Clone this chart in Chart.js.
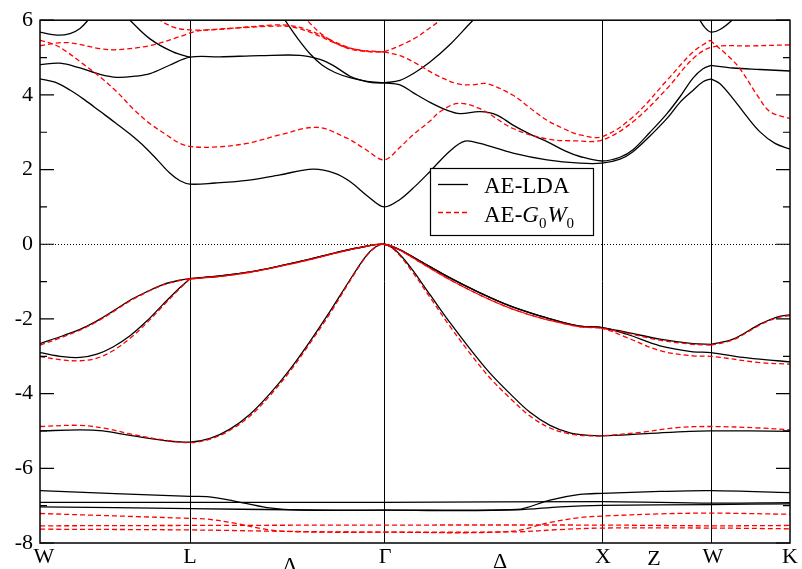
<!DOCTYPE html>
<html>
<head>
<meta charset="utf-8">
<script src="https://cdn.jsdelivr.net/npm/chart.js@4/dist/chart.umd.min.js"></script>
<style>
  body { margin: 0; background: #fff; }
  #wrap { width: 802px; height: 569px; }
</style>
</head>
<body>
<div id="wrap"><canvas id="bands" width="802" height="569"></canvas></div>
<script>
// k-path: high symmetry points (path length units) and axis labels
const kPoints = [0, 150, 344, 562, 671, 750];
const kLabels = ['W', 'L', 'Λ', 'Γ', 'Δ', 'X', 'Z', 'W', 'K'];
const kLabelPos = [4, 150, 250, 345, 460, 563, 614, 673, 750];
const energyTicks = [-8, -6, -4, -2, 0, 2, 4, 6];

// a repeated k value means a kink in the band (line restarts there)

// ---- AE-LDA bands ----
const ldaV1 = [[0,-2.66],[23,-2.45],[40,-2.28],[57,-2.05],[73,-1.79],[90,-1.5],[107,-1.27],[123,-1.08],[140,-0.96],[150,-0.92],
  [180,-0.85],[210,-0.74],[240,-0.58],[270,-0.4],[300,-0.2],[325,-0.06],[344,0],
  [360,-0.15],[380,-0.45],[410,-0.9],[440,-1.3],[470,-1.65],[500,-1.92],[520,-2.07],[540,-2.19],[562,-2.23],
  [587,-2.36],[620,-2.54],[653,-2.66],[671,-2.68],[671,-2.68],[693,-2.54],[720,-2.14],[737,-1.95],[750,-1.89]];
const ldaV2 = [[0,-2.9],[23,-3.01],[40,-3.03],[57,-2.94],[73,-2.75],[90,-2.45],[107,-2.05],[123,-1.61],[140,-1.16],[150,-0.92],
  [150,-0.92],[180,-0.85],[210,-0.74],[240,-0.58],[270,-0.4],[300,-0.2],[325,-0.06],[344,0],
  [360,-0.15],[380,-0.45],[410,-0.9],[440,-1.3],[470,-1.65],[500,-1.92],[520,-2.07],[540,-2.19],[562,-2.23],
  [587,-2.41],[620,-2.72],[653,-2.88],[671,-2.9],[703,-3.03],[737,-3.12],[750,-3.15]];
const ldaV3 = [[0,-5.0],[40,-4.97],[63,-5.0],[90,-5.12],[123,-5.25],[150,-5.3],
  [170,-5.2],[190,-4.95],[210,-4.55],[230,-4.0],[250,-3.35],[270,-2.6],[290,-1.8],[310,-0.95],[325,-0.35],[335,-0.08],[344,0],
  [355,-0.15],[370,-0.6],[390,-1.35],[410,-2.1],[430,-2.8],[450,-3.45],[470,-4.0],[490,-4.5],[510,-4.85],[530,-5.05],[550,-5.12],[562,-5.13],
  [590,-5.1],[620,-5.05],[650,-5.01],[671,-5.0],[710,-5.0],[750,-5.01]];
const ldaD1 = [[0,-6.6],[150,-6.75],[167,-6.76],[193,-6.87],[227,-7.05],[260,-7.12],[344,-7.12],[477,-7.1],[510,-6.85],[540,-6.7],[562,-6.67],[620,-6.62],[671,-6.6],[750,-6.65]];
const ldaD2 = [[0,-6.91],[344,-6.91],[562,-6.89],[671,-6.93],[750,-6.92]];
const ldaD3 = [[0,-7.03],[150,-7.08],[250,-7.11],[344,-7.12],[477,-7.11],[520,-7.03],[562,-6.99],[671,-6.97],[750,-6.95]];
const ldaC1 = [[0,4.43],[15,4.34],[30,4.13],[45,3.86],[60,3.56],[75,3.26],[90,2.95],[105,2.6],[118,2.24],[130,1.9],[140,1.7],[150,1.61],
  [175,1.64],[207,1.71],[240,1.86],[273,2.01],[295,1.9],[310,1.68],[328,1.28],[344,1.0],
  [360,1.2],[375,1.55],[390,1.95],[410,2.5],[425,2.76],[440,2.7],[473,2.44],[507,2.26],[540,2.17],[562,2.17],
  [580,2.28],[593,2.48],[610,2.9],[627,3.37],[640,3.8],[653,4.12],[663,4.35],[671,4.43],[671,4.43],
  [680,4.3],[693,3.9],[706,3.45],[720,3.01],[735,2.7],[750,2.55]];
const ldaC2 = [[344,4.32],[360,4.27],[373,4.06],[390,3.8],[407,3.59],[420,3.5],[440,3.55],[457,3.46],[473,3.19],[490,2.95],[507,2.75],[525,2.5],[540,2.35],[562,2.23],
  [580,2.33],[593,2.53],[610,3.0],[627,3.5],[640,3.95],[653,4.45],[663,4.7],[671,4.79],[671,4.79],[693,4.72],[720,4.68],[750,4.64]];
const ldaC3 = [[0,4.81],[20,4.85],[40,4.72],[60,4.55],[77,4.47],[95,4.5],[110,4.57],[130,4.8],[150,5.01],
  [180,5.02],[220,5.05],[260,5.06],[280,4.95],[293,4.79],[310,4.5],[320,4.4],[332,4.33],[344,4.32]];
const ldaC4 = [[80,6.3],[90,6.0],[110,5.5],[133,5.15],[150,5.01]];
const ldaC5 = [[235,6.4],[245,6.0],[258,5.5],[270,5.1],[282,4.8],[295,4.6],[310,4.46],[327,4.36],[344,4.32]];
const ldaC6 = [[344,4.32],[360,4.39],[375,4.6],[390,4.88],[410,5.35],[433,6.0],[445,6.3]];
const ldaC7 = [[0,5.68],[17,5.6],[30,5.64],[40,5.78],[48,6.0],[55,6.25]];
const ldaC8 = [[655,6.25],[660,6.0],[665,5.8],[671,5.68],[680,5.75],[692,6.0],[700,6.25]];

// ---- AE-G0W0 bands ----
const gwV1 = [[0,-2.7],[23,-2.48],[40,-2.3],[57,-2.07],[73,-1.81],[90,-1.52],[107,-1.28],[123,-1.09],[140,-0.97],[150,-0.93],
  [180,-0.86],[210,-0.75],[240,-0.59],[270,-0.41],[300,-0.21],[325,-0.06],[344,0],
  [360,-0.16],[380,-0.48],[410,-0.95],[440,-1.36],[470,-1.71],[500,-1.97],[520,-2.1],[540,-2.21],[562,-2.25],
  [587,-2.38],[620,-2.57],[653,-2.68],[671,-2.7],[671,-2.7],[693,-2.56],[720,-2.16],[737,-1.97],[750,-1.91]];
const gwV2 = [[0,-3.01],[23,-3.1],[40,-3.12],[57,-3.05],[73,-2.85],[90,-2.52],[107,-2.1],[123,-1.65],[140,-1.18],[150,-0.93],
  [150,-0.93],[180,-0.86],[210,-0.75],[240,-0.59],[270,-0.41],[300,-0.21],[325,-0.06],[344,0],
  [360,-0.16],[380,-0.48],[410,-0.95],[440,-1.36],[470,-1.71],[500,-1.97],[520,-2.1],[540,-2.21],[562,-2.25],
  [587,-2.5],[620,-2.85],[653,-2.99],[671,-3.0],[720,-3.17],[750,-3.21]];
const gwV3 = [[0,-4.88],[40,-4.85],[67,-4.94],[90,-5.08],[123,-5.24],[150,-5.31],
  [170,-5.22],[190,-4.98],[210,-4.6],[230,-4.05],[250,-3.4],[270,-2.65],[290,-1.85],[310,-0.98],[325,-0.37],[335,-0.09],[344,0],
  [355,-0.17],[370,-0.65],[390,-1.42],[410,-2.2],[430,-2.92],[450,-3.58],[470,-4.12],[490,-4.6],[510,-4.92],[530,-5.08],[550,-5.13],[562,-5.13],
  [603,-5.03],[637,-4.91],[671,-4.88],[720,-4.92],[750,-4.97]];
const gwD1 = [[0,-7.21],[150,-7.34],[167,-7.36],[193,-7.46],[227,-7.64],[260,-7.7],[344,-7.71],[470,-7.69],[510,-7.45],[540,-7.32],[562,-7.28],[620,-7.22],[671,-7.2],[750,-7.23]];
const gwD2 = [[0,-7.54],[150,-7.53],[344,-7.52],[562,-7.52],[671,-7.54],[750,-7.53]];
const gwD3 = [[0,-7.63],[150,-7.65],[250,-7.69],[344,-7.71],[477,-7.7],[520,-7.64],[562,-7.6],[671,-7.6],[750,-7.62]];
const gwC1 = [[0,5.46],[15,5.34],[27,5.15],[43,4.83],[60,4.48],[77,4.08],[93,3.63],[110,3.23],[127,2.92],[140,2.7],[150,2.62],
  [173,2.6],[207,2.7],[240,2.93],[277,3.13],[307,2.84],[325,2.55],[344,2.26],
  [360,2.6],[373,2.93],[390,3.3],[400,3.55],[418,3.77],[440,3.63],[473,3.1],[507,2.82],[535,2.77],[562,2.79],
  [593,3.28],[627,4.17],[653,4.97],[672,5.28],[710,5.31],[750,5.34]];
const gwC2 = [[344,5.15],[360,5.05],[377,4.83],[395,4.55],[417,4.3],[432,4.27],[447,4.3],[473,3.99],[490,3.65],[507,3.32],[525,3.08],[540,2.93],[562,2.88],
  [593,3.41],[627,4.39],[653,5.15],[670,5.46],[670,5.46],[687,5.07],[700,4.7],[717,4.0],[730,3.55],[750,3.37]];
const gwC3 = [[0,5.32],[27,5.4],[60,5.24],[77,5.21],[110,5.32],[143,5.59],[150,5.66],[160,5.72],
  [190,5.78],[233,5.84],[250,5.83],[270,5.68],[293,5.41],[310,5.23],[327,5.16],[344,5.15]];
const gwC4 = [[112,6.2],[120,6.0],[135,5.8],[150,5.74],[170,5.74],[200,5.8],[233,5.87],[250,5.86],[270,5.72],[293,5.44],[310,5.26],[327,5.17],[344,5.15]];
const gwC5 = [[258,6.3],[267,6.0],[283,5.6],[300,5.33],[320,5.2],[344,5.15]];
const gwC6 = [[344,5.15],[360,5.32],[377,5.55],[390,5.8],[400,6.0],[410,6.3]];

const ldaBands = [ldaV1, ldaV2, ldaV3, ldaD1, ldaD2, ldaD3, ldaC1, ldaC2, ldaC3, ldaC4, ldaC5, ldaC6, ldaC7, ldaC8];
const gwBands = [gwV1, gwV2, gwV3, gwD1, gwD2, gwD3, gwC1, gwC2, gwC3, gwC4, gwC5, gwC6];

// turn [k, E] pairs into chart points, breaking the line at repeated k
function toPoints(pairs) {
    const pts = [];
    let prevK = null;
    pairs.forEach(([k, e]) => {
        if (prevK !== null && k === prevK) pts.push({ x: k, y: null });
        pts.push({ x: k, y: e });
        prevK = k;
    });
    return pts;
}

const datasets = [];
gwBands.forEach(b => datasets.push({
    data: toPoints(b), borderColor: '#ff0000', borderWidth: 1.3, borderDash: [5, 3],
    pointRadius: 0, tension: 0.35, spanGaps: false, order: 0
}));
ldaBands.forEach(b => datasets.push({
    data: toPoints(b), borderColor: '#000000', borderWidth: 1.3,
    pointRadius: 0, tension: 0.35, spanGaps: false, order: 1
}));

const serif = 'Liberation Serif, Times New Roman, serif';

// frame, k-point lines, inward ticks, k labels and legend
const decorPlugin = {
    id: 'decor',
    beforeDatasetsDraw(chart) {
        const { ctx, chartArea: a, scales: { x, y } } = chart;
        ctx.save();
        ctx.strokeStyle = '#000';
        ctx.lineWidth = 1;
        kPoints.slice(1, -1).forEach(k => {
            const px = Math.round(x.getPixelForValue(k)) + 0.5;
            ctx.beginPath(); ctx.moveTo(px, a.top); ctx.lineTo(px, a.bottom); ctx.stroke();
        });
        // dotted zero line
        const y0 = Math.round(y.getPixelForValue(0)) + 0.5;
        ctx.setLineDash([1, 2]);
        ctx.beginPath(); ctx.moveTo(a.left, y0); ctx.lineTo(a.right, y0); ctx.stroke();
        ctx.restore();
    },
    afterDatasetsDraw(chart) {
        const { ctx, chartArea: a, scales: { x, y } } = chart;
        ctx.save();
        ctx.strokeStyle = '#000';
        ctx.lineWidth = 1.5;
        ctx.strokeRect(a.left, a.top, a.right - a.left, a.bottom - a.top);

        // inward y ticks on both sides: major at even, minor at odd values
        ctx.lineWidth = 1.2;
        for (let v = -8; v <= 6; v++) {
            const py = y.getPixelForValue(v);
            const len = v % 2 === 0 ? 14 : 7;
            ctx.beginPath();
            ctx.moveTo(a.left, py); ctx.lineTo(a.left + len, py);
            ctx.moveTo(a.right, py); ctx.lineTo(a.right - len, py);
            ctx.stroke();
        }

        // k-point labels
        ctx.fillStyle = '#000';
        ctx.font = '22px ' + serif;
        ctx.textAlign = 'center';
        ctx.textBaseline = 'alphabetic';
        kLabels.forEach((lab, i) => {
            let base = a.bottom + 20;
            if (lab === 'Λ') base = a.bottom + 29;
            if (lab === 'Δ') base = a.bottom + 25;
            if (lab === 'Z') base = a.bottom + 22;
            ctx.fillText(lab, x.getPixelForValue(kLabelPos[i]), base);
        });

        // legend box
        const lx = 430, ly = 168, lw = 163, lh = 67;
        ctx.fillStyle = '#fff';
        ctx.fillRect(lx, ly, lw, lh);
        ctx.lineWidth = 1.2;
        ctx.strokeRect(lx + 0.5, ly + 0.5, lw, lh);

        ctx.lineWidth = 1.3;
        ctx.strokeStyle = '#000';
        ctx.beginPath(); ctx.moveTo(438, 184.5); ctx.lineTo(468, 184.5); ctx.stroke();
        ctx.strokeStyle = '#ff0000';
        ctx.setLineDash([5, 3]);
        ctx.beginPath(); ctx.moveTo(438, 212.5); ctx.lineTo(468, 212.5); ctx.stroke();
        ctx.setLineDash([]);

        ctx.fillStyle = '#000';
        ctx.textAlign = 'left';
        ctx.font = '23px ' + serif;
        ctx.fillText('AE-LDA', 484, 193);
        let tx = 484;
        ctx.fillText('AE-', tx, 222);
        tx += ctx.measureText('AE-').width;
        ctx.font = 'italic 23px ' + serif;
        ctx.fillText('G', tx, 222);
        tx += ctx.measureText('G').width;
        ctx.font = '15px ' + serif;
        ctx.fillText('0', tx, 228);
        tx += ctx.measureText('0').width + 1;
        ctx.font = 'italic 23px ' + serif;
        ctx.fillText('W', tx, 222);
        tx += ctx.measureText('W').width;
        ctx.font = '15px ' + serif;
        ctx.fillText('0', tx, 228);
        ctx.restore();
    }
};

new Chart(document.getElementById('bands'), {
    type: 'line',
    data: { datasets: datasets },
    options: {
        responsive: false,
        devicePixelRatio: 1,
        animation: false,
        layout: { padding: { top: 18, right: 12, left: 0, bottom: 0 } },
        plugins: { legend: { display: false }, tooltip: { enabled: false } },
        scales: {
            x: {
                type: 'linear', min: kPoints[0], max: kPoints[kPoints.length - 1],
                ticks: { display: false },
                grid: { display: false, drawTicks: false },
                border: { display: false },
                afterFit(s) { s.height = 26; }
            },
            y: {
                type: 'linear', min: -8, max: 6,
                afterBuildTicks(s) { s.ticks = energyTicks.map(v => ({ value: v })); },
                ticks: { color: '#000', padding: 7, font: { family: serif, size: 22 } },
                grid: { display: false, drawTicks: false },
                border: { display: false },
                afterFit(s) { s.width = 40; }
            }
        }
    },
    plugins: [decorPlugin]
});
</script>
</body>
</html>
